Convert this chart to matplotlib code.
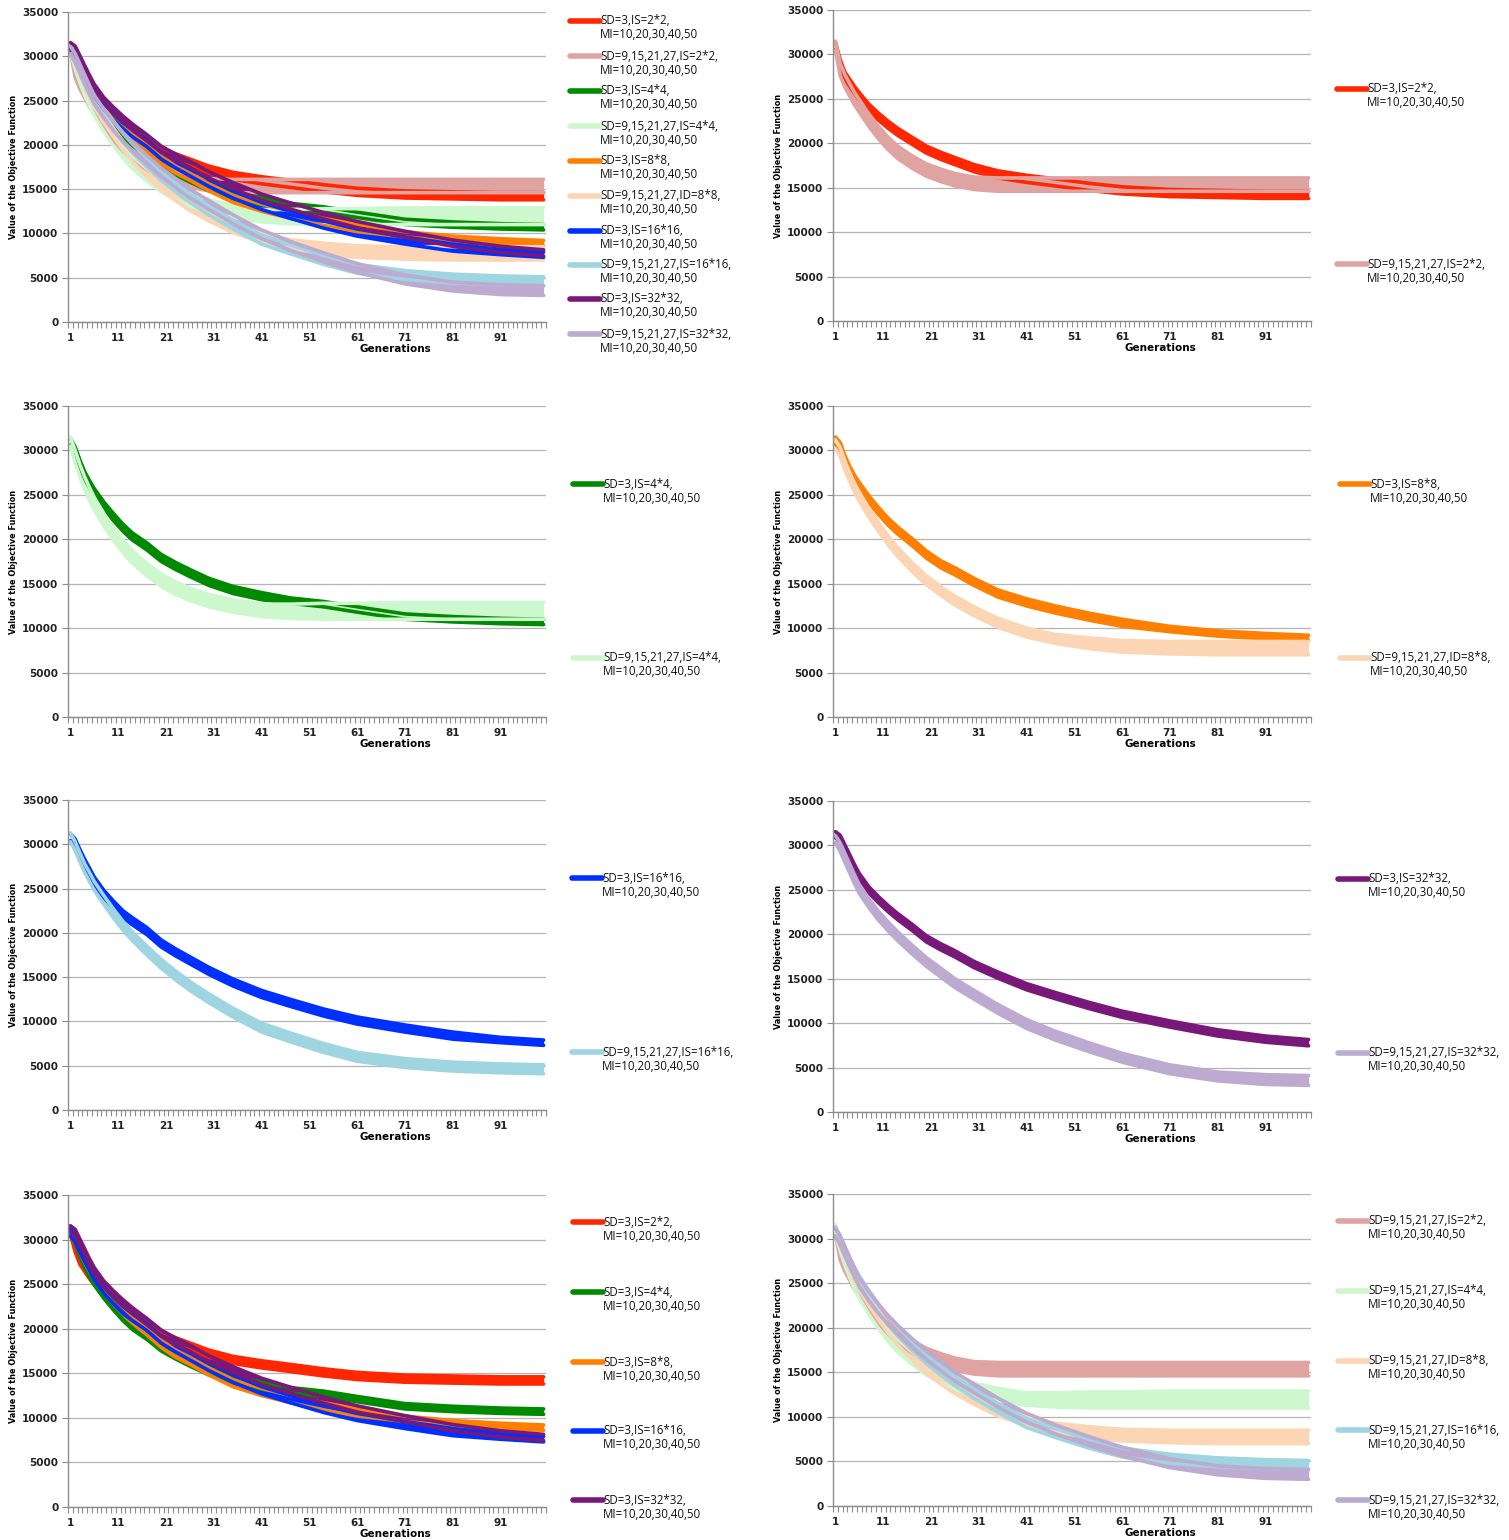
import numpy as np
import matplotlib
matplotlib.use("Agg")
import matplotlib.pyplot as plt
from matplotlib.lines import Line2D

gens = [1, 2, 3, 4, 5, 6, 8, 10, 12, 14, 17, 20, 23, 26, 30, 35, 41, 47, 54, 61, 71, 81, 91, 100]

# upper / lower edge of each band (objective value)
sd3_2x2_hi = [31400, 29400, 28000, 27200, 26400, 25700, 24400, 23400, 22500, 21700, 20700, 19700, 19000, 18400, 17600, 16900, 16400, 16000, 15500, 15100, 14800, 14700, 14600, 14600]
sd3_2x2_lo = [30600, 28600, 27200, 26400, 25600, 24900, 23600, 22600, 21700, 20900, 19900, 18900, 18200, 17600, 16800, 16100, 15600, 15200, 14700, 14300, 14000, 13900, 13800, 13800]
sd9_2x2_hi = [31500, 29000, 27700, 26700, 25700, 24900, 23300, 21900, 20700, 19700, 18600, 17700, 17100, 16600, 16200, 16100, 16100, 16100, 16100, 16100, 16100, 16100, 16100, 16100]
sd9_2x2_lo = [30500, 27600, 26300, 25300, 24300, 23500, 21900, 20500, 19300, 18300, 17200, 16300, 15700, 15200, 14800, 14600, 14600, 14600, 14600, 14600, 14600, 14600, 14600, 14600]
sd3_4x4_hi = [31400, 30400, 28900, 27600, 26600, 25700, 24200, 22900, 21700, 20700, 19600, 18300, 17400, 16600, 15600, 14700, 14000, 13400, 13000, 12400, 11600, 11300, 11100, 11000]
sd3_4x4_lo = [30600, 29600, 28100, 26800, 25800, 24900, 23400, 22100, 20900, 19900, 18800, 17500, 16600, 15800, 14800, 13900, 13200, 12800, 12400, 11800, 11000, 10700, 10500, 10400]
sd9_4x4_hi = [31500, 30000, 28400, 27000, 25800, 24700, 22900, 21300, 19900, 18700, 17300, 16100, 15200, 14500, 13800, 13200, 12700, 12700, 12800, 12800, 12900, 12900, 12900, 12900]
sd9_4x4_lo = [30500, 28600, 27000, 25600, 24400, 23300, 21500, 19900, 18500, 17300, 15900, 14700, 13800, 13100, 12400, 11800, 11300, 11100, 11000, 11000, 11000, 11000, 11000, 11000]
sd3_8x8_hi = [31500, 30900, 29400, 28200, 27200, 26400, 24900, 23600, 22400, 21400, 20100, 18700, 17600, 16800, 15600, 14300, 13300, 12500, 11700, 11000, 10200, 9700, 9400, 9200]
sd3_8x8_lo = [30700, 30100, 28600, 27400, 26400, 25600, 24100, 22800, 21600, 20600, 19300, 17900, 16800, 16000, 14800, 13500, 12500, 11700, 10900, 10200, 9600, 9100, 8800, 8600]
sd9_8x8_hi = [31200, 30300, 28800, 27500, 26300, 25300, 23500, 21900, 20400, 19100, 17400, 15900, 14700, 13600, 12400, 11100, 10000, 9300, 8900, 8600, 8500, 8500, 8500, 8500]
sd9_8x8_lo = [30200, 29300, 27800, 26500, 25300, 24300, 22500, 20900, 19400, 18100, 16400, 14900, 13700, 12600, 11400, 10100, 9000, 8300, 7700, 7300, 7100, 7000, 7000, 7000]
sd3_16x16_hi = [31200, 30600, 29400, 28300, 27300, 26300, 24800, 23600, 22500, 21700, 20600, 19200, 18200, 17300, 16100, 14800, 13500, 12500, 11400, 10500, 9600, 8800, 8200, 7900]
sd3_16x16_lo = [30400, 29800, 28600, 27500, 26500, 25500, 24000, 22800, 21700, 20900, 19800, 18400, 17400, 16500, 15300, 14000, 12700, 11700, 10600, 9700, 8800, 8000, 7600, 7300]
sd9_16x16_hi = [31300, 30300, 29000, 27800, 26800, 25800, 24200, 22700, 21300, 20100, 18500, 17000, 15700, 14500, 13100, 11500, 9800, 8700, 7500, 6500, 5800, 5400, 5200, 5100]
sd9_16x16_lo = [30300, 29300, 28000, 26800, 25800, 24800, 23200, 21700, 20300, 19100, 17500, 16000, 14700, 13500, 12100, 10500, 8800, 7700, 6500, 5500, 4800, 4400, 4200, 4100]
sd3_32x32_hi = [31550, 31150, 30050, 28950, 27850, 26850, 25350, 24250, 23250, 22350, 21150, 19850, 18950, 18150, 16950, 15750, 14450, 13450, 12350, 11350, 10250, 9250, 8550, 8150]
sd3_32x32_lo = [30850, 30450, 29350, 28250, 27150, 26150, 24650, 23550, 22550, 21650, 20450, 19150, 18250, 17450, 16250, 15050, 13750, 12750, 11650, 10650, 9550, 8550, 7850, 7450]
sd9_32x32_hi = [31100, 30300, 29100, 27900, 26700, 25600, 24000, 22600, 21400, 20300, 18800, 17400, 16200, 15000, 13700, 12100, 10400, 9100, 7800, 6600, 5300, 4500, 4200, 4100]
sd9_32x32_lo = [30300, 29300, 28100, 26900, 25700, 24600, 23000, 21600, 20400, 19300, 17800, 16400, 15200, 14000, 12700, 11100, 9400, 8100, 6800, 5600, 4300, 3500, 3100, 3000]

labels = {
    "sd3_2": "SD=3,IS=2*2,\nMI=10,20,30,40,50",
    "sd9_2": "SD=9,15,21,27,IS=2*2,\nMI=10,20,30,40,50",
    "sd3_4": "SD=3,IS=4*4,\nMI=10,20,30,40,50",
    "sd9_4": "SD=9,15,21,27,IS=4*4,\nMI=10,20,30,40,50",
    "sd3_8": "SD=3,IS=8*8,\nMI=10,20,30,40,50",
    "sd9_8": "SD=9,15,21,27,ID=8*8,\nMI=10,20,30,40,50",
    "sd3_16": "SD=3,IS=16*16,\nMI=10,20,30,40,50",
    "sd9_16": "SD=9,15,21,27,IS=16*16,\nMI=10,20,30,40,50",
    "sd3_32": "SD=3,IS=32*32,\nMI=10,20,30,40,50",
    "sd9_32": "SD=9,15,21,27,IS=32*32,\nMI=10,20,30,40,50",
}
colors = {
    "sd3_2": "#ff2600", "sd9_2": "#dfa3a1",
    "sd3_4": "#008a00", "sd9_4": "#cdf7cd",
    "sd3_8": "#ff7f00", "sd9_8": "#fcd5b5",
    "sd3_16": "#0030ff", "sd9_16": "#9fd4e1",
    "sd3_32": "#781878", "sd9_32": "#bcaad1",
}
bands = {
    "sd3_2": (sd3_2x2_lo, sd3_2x2_hi), "sd9_2": (sd9_2x2_lo, sd9_2x2_hi),
    "sd3_4": (sd3_4x4_lo, sd3_4x4_hi), "sd9_4": (sd9_4x4_lo, sd9_4x4_hi),
    "sd3_8": (sd3_8x8_lo, sd3_8x8_hi), "sd9_8": (sd9_8x8_lo, sd9_8x8_hi),
    "sd3_16": (sd3_16x16_lo, sd3_16x16_hi), "sd9_16": (sd9_16x16_lo, sd9_16x16_hi),
    "sd3_32": (sd3_32x32_lo, sd3_32x32_hi), "sd9_32": (sd9_32x32_lo, sd9_32x32_hi),
}

all_keys = ["sd3_2", "sd9_2", "sd3_4", "sd9_4", "sd3_8", "sd9_8",
            "sd3_16", "sd9_16", "sd3_32", "sd9_32"]
sd3_keys = ["sd3_2", "sd3_4", "sd3_8", "sd3_16", "sd3_32"]
sd9_keys = ["sd9_2", "sd9_4", "sd9_8", "sd9_16", "sd9_32"]

W, H = 1509, 1540
fig = plt.figure(figsize=(W / 100, H / 100), dpi=100)

GRAY = "#8c8c8c"


def px(x, y):
    return x / W, 1 - y / H


def draw_panel(left, top, bottom, keys, leg_x, leg_ys):
    x0, y0 = px(left, bottom)
    ax = fig.add_axes([x0, y0, 478 / W, (bottom - top) / H])
    for k in keys:
        lo, hi = bands[k]
        c = colors[k]
        ax.fill_between(gens, lo, hi, color=c, lw=0)
        ax.plot(gens, lo, color=c, lw=2.6, solid_capstyle="round", solid_joinstyle="round")
        ax.plot(gens, hi, color=c, lw=2.6, solid_capstyle="round", solid_joinstyle="round")
    ax.set_xlim(0.5, 100.5)
    ax.set_ylim(0, 35000)
    ax.set_yticks(range(0, 35001, 5000))
    ax.set_xticks(range(1, 100, 10))
    ax.set_xticks(np.arange(0.5, 101, 1), minor=True)
    ax.tick_params(axis="x", which="major", length=0, pad=8, labelsize=7.5)
    ax.tick_params(axis="x", which="minor", length=4, color=GRAY, width=0.8)
    ax.tick_params(axis="y", length=4, color=GRAY, width=0.8, labelsize=7.5, pad=3)
    for lab in ax.get_xticklabels() + ax.get_yticklabels():
        lab.set_fontweight("bold")
        lab.set_color("#222222")
    ax.grid(axis="y", color="#b4b4b4", lw=0.9)
    ax.set_axisbelow(True)
    for s in ["top", "right"]:
        ax.spines[s].set_visible(False)
    for s in ["left", "bottom"]:
        ax.spines[s].set_color(GRAY)
        ax.spines[s].set_linewidth(1.0)
    ax.set_ylabel("Value of the Objective Function", fontsize=5.9, fontweight="bold")
    ax.yaxis.set_label_coords(-0.104, 0.5)
    ax.set_xlabel("Generations", fontsize=7.5, fontweight="bold")
    ax.xaxis.set_label_coords(0.684, -0.071)

    for k, ly in zip(keys, leg_ys):
        a, b = px(leg_x, ly)
        c2, _ = px(leg_x + 30, ly)
        fig.add_artist(Line2D([a, c2], [b, b], color=colors[k], lw=4,
                              solid_capstyle="round", transform=fig.transFigure))
        fig.text(c2, b + 6.5 / H, labels[k], fontsize=8.3, family="Open Sans",
                 va="top", ha="left", linespacing=1.1, color="#111111")
    return ax


LX, RX = 68, 833
draw_panel(LX, 12, 322, all_keys, 570,
           [21, 56, 91, 126, 161, 196, 231, 265, 299, 334])
draw_panel(RX, 10, 321, ["sd3_2", "sd9_2"], 1337, [89, 264])
draw_panel(LX, 406, 717, ["sd3_4", "sd9_4"], 573, [484, 658])
draw_panel(RX, 406, 717, ["sd3_8", "sd9_8"], 1340, [484, 658])
draw_panel(LX, 800, 1110, ["sd3_16", "sd9_16"], 572, [878, 1052])
draw_panel(RX, 801, 1112, ["sd3_32", "sd9_32"], 1338, [879, 1053])
draw_panel(LX, 1195, 1507, sd3_keys, 573, [1222, 1292, 1362, 1431, 1500])
draw_panel(RX, 1194, 1506, sd9_keys, 1338, [1221, 1291, 1361, 1430, 1500])

fig.savefig("out.png", dpi=100, facecolor="white")
